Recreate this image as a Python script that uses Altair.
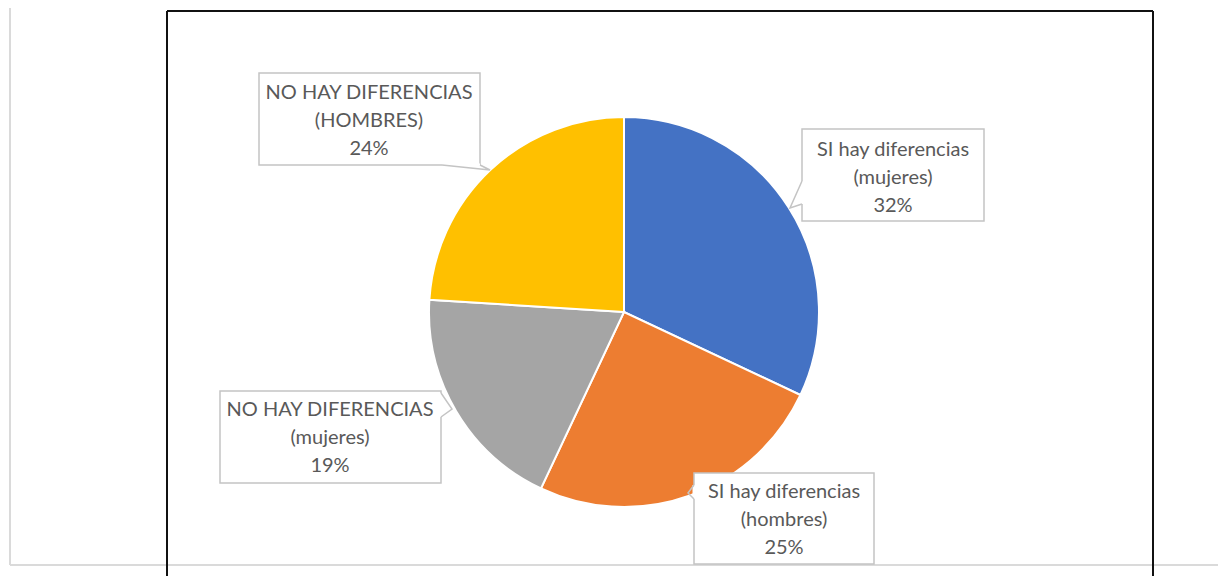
import altair as alt
import pandas as pd

# ---- data ----
categories = [
    "SI hay diferencias (mujeres)",
    "SI hay diferencias (hombres)",
    "NO HAY DIFERENCIAS (mujeres)",
    "NO HAY DIFERENCIAS (HOMBRES)",
]
values = [32, 25, 19, 24]
colors = ["#4472C4", "#ED7D31", "#A5A5A5", "#FFC000"]

# ---- layout (page pixel coordinates, converted to chart coordinates below) ----
M = 8  # page margin
W, H = 1210, 568
CX, CY, R = 624, 312, 195

# label boxes: x0, x1, y0, y1 ; text centre x, middle-line y ; wedge (base1, tip, base2)
label_layout = [
    dict(box=(802, 984, 129, 221), tx=893, ty=178, wedge=[(802, 181), (790, 208), (802, 204)]),
    dict(box=(694, 874, 473, 564), tx=784, ty=520, wedge=[(694, 485), (688, 493), (694, 499)]),
    dict(box=(220, 441, 391, 483), tx=330, ty=438, wedge=[(441, 393), (452, 409), (441, 417)]),
    dict(box=(259, 480, 73, 165), tx=369, ty=121, wedge=[(442, 165), (490, 170), (480, 165)]),
]
LINE_H = 28
FONT = "Lato"
FONT_SIZE = 20
TEXT_COLOR = "#595959"
BOX_STROKE = "#C4C4C4"

# ---- tables ----
pie_df = pd.DataFrame({"category": categories, "value": values, "order": range(len(values))})

box_rows, text_rows, wedge_rows, cover_rows = [], [], [], []
for cat, val, lay in zip(categories, values, label_layout):
    x0, x1, y0, y1 = lay["box"]
    box_rows.append(dict(category=cat, x=x0 - M, x2=x1 - M, y=y0 - M, y2=y1 - M))
    head, tail = cat.split(" (")
    lines = [head, "(" + tail, f"{val}%"]
    for i, t in enumerate(lines):
        text_rows.append(dict(category=cat, text=t, x=lay["tx"] - M, y=lay["ty"] - M + (i - 1) * LINE_H))
    for j, (px, py) in enumerate(lay["wedge"]):
        wedge_rows.append(dict(category=cat, k=j, x=px - M, y=py - M))
    (bx1, by1), _, (bx2, by2) = lay["wedge"]
    cover_rows.append(dict(category=cat, x=bx1 - M, x2=bx2 - M, y=by1 - M, y2=by2 - M))

box_df = pd.DataFrame(box_rows)
text_df = pd.DataFrame(text_rows)
wedge_df = pd.DataFrame(wedge_rows)
cover_df = pd.DataFrame(cover_rows)

# ---- decorative frame lines ----
def rule(x1, x2, y1, y2, color, width):
    return alt.Chart(pd.DataFrame({"a": [0]})).mark_rule(color=color, strokeWidth=width).encode(
        x=alt.value(x1), x2=alt.value(x2), y=alt.value(y1), y2=alt.value(y2)
    )

gray = "#DADADA"
frame = [
    rule(10 - M, 10 - M, 0, 565 - M, gray, 2),
    rule(10 - M, W, 565 - M, 565 - M, gray, 2),
    rule(167 - M, 1153 - M, 11 - M, 11 - M, "#111111", 2),
    rule(167 - M, 167 - M, 11 - M, H, "#111111", 2),
    rule(1153 - M, 1153 - M, 11 - M, H, "#111111", 2),
]

pie = alt.Chart(pie_df).mark_arc(outerRadius=R, stroke="white", strokeWidth=2).encode(
    theta=alt.Theta("value:Q", stack=True),
    color=alt.Color("category:N", scale=alt.Scale(domain=categories, range=colors), legend=None),
    order=alt.Order("order:Q"),
    x=alt.value(CX - M),
    y=alt.value(CY - M),
)

boxes = alt.Chart(box_df).mark_rect(fill="white", stroke=BOX_STROKE, strokeWidth=1.5).encode(
    x=alt.X("x:Q", scale=None), x2="x2:Q", y=alt.Y("y:Q", scale=None), y2="y2:Q"
)

covers = alt.Chart(cover_df).mark_rule(color="white", strokeWidth=3).encode(
    x=alt.X("x:Q", scale=None), x2="x2:Q", y=alt.Y("y:Q", scale=None), y2="y2:Q"
)

wedges = alt.Chart(wedge_df).mark_line(color=BOX_STROKE, strokeWidth=1.5).encode(
    x=alt.X("x:Q", scale=None), y=alt.Y("y:Q", scale=None), detail="category:N", order="k:Q"
)

texts = alt.Chart(text_df).mark_text(
    font=FONT, fontSize=FONT_SIZE, color=TEXT_COLOR, align="center", baseline="middle"
).encode(x=alt.X("x:Q", scale=None), y=alt.Y("y:Q", scale=None), text="text:N")

chart = alt.layer(*frame, pie, boxes, covers, wedges, texts).properties(
    width=W, height=H, autosize=alt.AutoSizeParams(type="none"), padding=0
).configure_view(strokeWidth=0)

chart.save("out.html", embed_options={"renderer": "svg", "actions": False})
